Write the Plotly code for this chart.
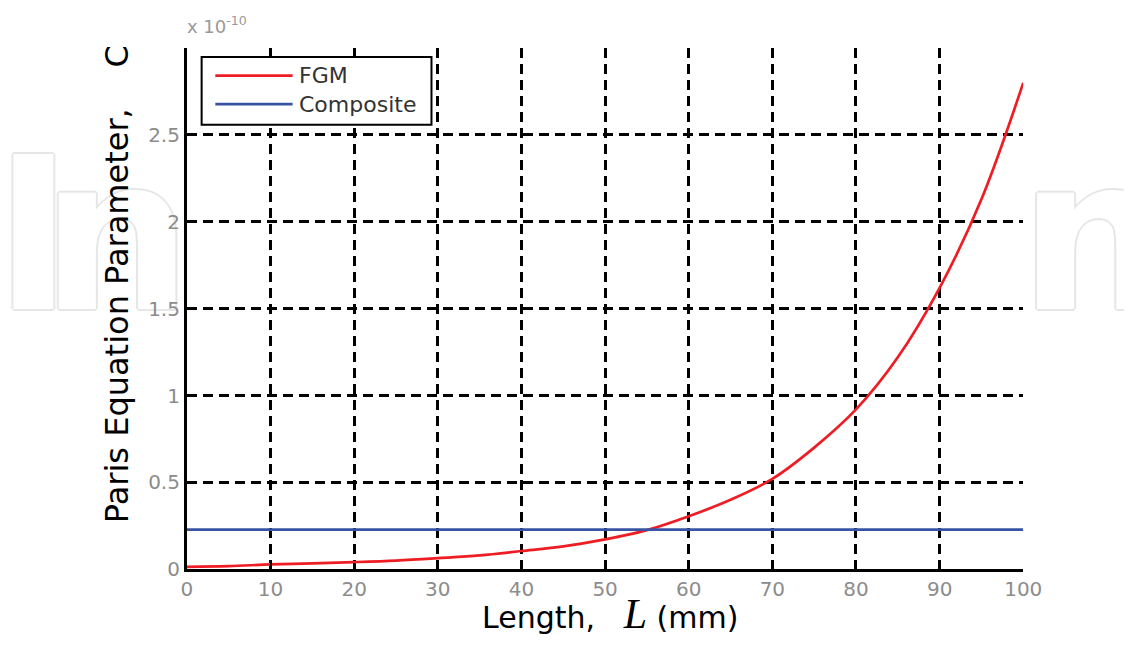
import plotly.graph_objects as go

# Crack length (mm) and Paris law parameter C (units of 1e-10)
length_mm = [0, 5, 10, 15, 20, 25, 30, 35, 40, 45, 50,
             55, 60, 65, 70, 75, 80, 85, 90, 95, 100]
c_fgm = [0.014, 0.018, 0.028, 0.034, 0.041, 0.050, 0.064, 0.080, 0.105, 0.132, 0.172,
         0.225, 0.305, 0.400, 0.520, 0.700, 0.920, 1.220, 1.620, 2.130, 2.800]
composite_length = [0, 100]
c_composite = [0.228, 0.228]

x_ticks = [0, 10, 20, 30, 40, 50, 60, 70, 80, 90, 100]
y_ticks = [0, 0.5, 1, 1.5, 2, 2.5]
y_tick_text = ["0", "0.5", "1", "1.5", "2", "2.5"]

series_names = ["FGM", "Composite"]
series_colors = ["#ee1d24", "#3953a4"]

W, H = 1143, 648


def fx(p):
    """pixel x -> paper fraction"""
    return p / W


def fy(p):
    """pixel y (from top) -> paper fraction"""
    return 1 - p / H


plot_left, plot_right, plot_top, plot_bottom = 185, 1040, 49, 580

# publisher watermark letters, visible only in the side margins
wm_left_letters = ["I", "n"]
wm_left_x = [28, 113]
wm_right_letters = ["n"]
wm_right_x = [1113]
wm_y = 261
wm_outline = "#e6e6e6"
wm_shadow = ", ".join(f"{dx}px {dy}px 0 {wm_outline}"
                      for dx, dy in [(2, 0), (-2, 0), (0, 2), (0, -2),
                                     (1, 1), (-1, -1), (1, -1), (-1, 1)])
wm_font = dict(family="DejaVu Sans", size=212, color="white",
               weight="bold", shadow=wm_shadow)

fig = go.Figure()

fig.add_trace(go.Scatter(
    x=wm_left_x, y=[wm_y] * len(wm_left_x), text=wm_left_letters,
    mode="text", textposition="middle center", textfont=wm_font,
    cliponaxis=True, showlegend=False, hoverinfo="skip",
    xaxis="x", yaxis="y"))
fig.add_trace(go.Scatter(
    x=wm_right_x, y=[wm_y] * len(wm_right_x), text=wm_right_letters,
    mode="text", textposition="middle center", textfont=wm_font,
    cliponaxis=True, showlegend=False, hoverinfo="skip",
    xaxis="x2", yaxis="y2"))

fig.add_trace(go.Scatter(
    x=length_mm, y=c_fgm, name=series_names[0], mode="lines",
    line=dict(color=series_colors[0], width=2.7, shape="spline"),
    xaxis="x3", yaxis="y3", showlegend=False))
fig.add_trace(go.Scatter(
    x=composite_length, y=c_composite, name=series_names[1], mode="lines",
    line=dict(color=series_colors[1], width=2.7),
    xaxis="x3", yaxis="y3", showlegend=False))

hidden = dict(visible=False, showgrid=False, zeroline=False, fixedrange=True)

axis_common = dict(
    showgrid=True, gridcolor="black", gridwidth=2.7, griddash="10px,6px",
    showline=True, linecolor="black", linewidth=3, mirror=False,
    ticks="inside", ticklen=6, tickwidth=2, tickcolor="black",
    tickfont=dict(family="DejaVu Sans", size=20, color="#8c8c8c"),
    zeroline=False,
)

# boxed legend in the upper-left corner of the axes, long line samples
legend_box = dict(x0=200, x1=435, y0=58, y1=127)
legend_rows = [77, 106]
legend_line_x = (214, 293)
legend_text_x = 298

shapes = [dict(type="rect", xref="paper", yref="paper",
               x0=fx(legend_box["x0"]), x1=fx(legend_box["x1"]),
               y0=fy(legend_box["y1"]), y1=fy(legend_box["y0"]),
               line=dict(color="black", width=2), fillcolor="white", layer="above")]
legend_labels = []
for name, color, row in zip(series_names, series_colors, legend_rows):
    shapes.append(dict(type="line", xref="paper", yref="paper",
                       x0=fx(legend_line_x[0]), x1=fx(legend_line_x[1]),
                       y0=fy(row), y1=fy(row),
                       line=dict(color=color, width=2.7), layer="above"))
    legend_labels.append(dict(text=name, xref="paper", yref="paper",
                              x=fx(legend_text_x), y=fy(row),
                              xanchor="left", yanchor="middle", showarrow=False,
                              font=dict(family="DejaVu Sans", size=22, color="#333333")))

fig.update_layout(
    width=W, height=H,
    margin=dict(l=0, r=0, t=0, b=0),
    paper_bgcolor="white", plot_bgcolor="white",
    xaxis=dict(domain=[0, fx(plot_left)], range=[0, plot_left], **hidden),
    yaxis=dict(domain=[0, 1], range=[H, 0], anchor="x", **hidden),
    xaxis2=dict(domain=[fx(plot_right), 1], range=[plot_right, W], **hidden),
    yaxis2=dict(domain=[0, 1], range=[H, 0], anchor="x2", **hidden),
    xaxis3=dict(domain=[fx(plot_left), fx(plot_right)], anchor="y3",
                range=[0, 100], tickvals=x_ticks, **axis_common),
    yaxis3=dict(domain=[fy(plot_bottom), fy(plot_top)], anchor="x3",
                range=[0, 3.0], tickvals=y_ticks, ticktext=y_tick_text,
                **axis_common),
    showlegend=False,
    shapes=shapes,
    annotations=[
        dict(text="Paris Equation Parameter,\u00a0\u00a0\u00a0\u00a0C",
             xref="paper", yref="paper", x=fx(113), y=fy(290),
             textangle=-90, showarrow=False, xanchor="center", yanchor="middle",
             font=dict(family="DejaVu Sans", size=32, color="black")),
        dict(text="Length,\u00a0\u00a0\u00a0<span style='font-family:Liberation Serif;"
                  "font-size:42px'><i>L</i></span>\u00a0(mm)",
             xref="paper", yref="paper", x=fx(617), y=fy(626),
             showarrow=False, xanchor="center", yanchor="middle",
             font=dict(family="DejaVu Sans", size=30, color="black")),
        dict(text="x 10<sup>-10</sup>",
             xref="paper", yref="paper", x=fx(183), y=fy(40),
             showarrow=False, xanchor="left", yanchor="bottom",
             font=dict(family="DejaVu Sans", size=18, color="#999999")),
    ] + legend_labels,
)

fig.write_html("out.html")
